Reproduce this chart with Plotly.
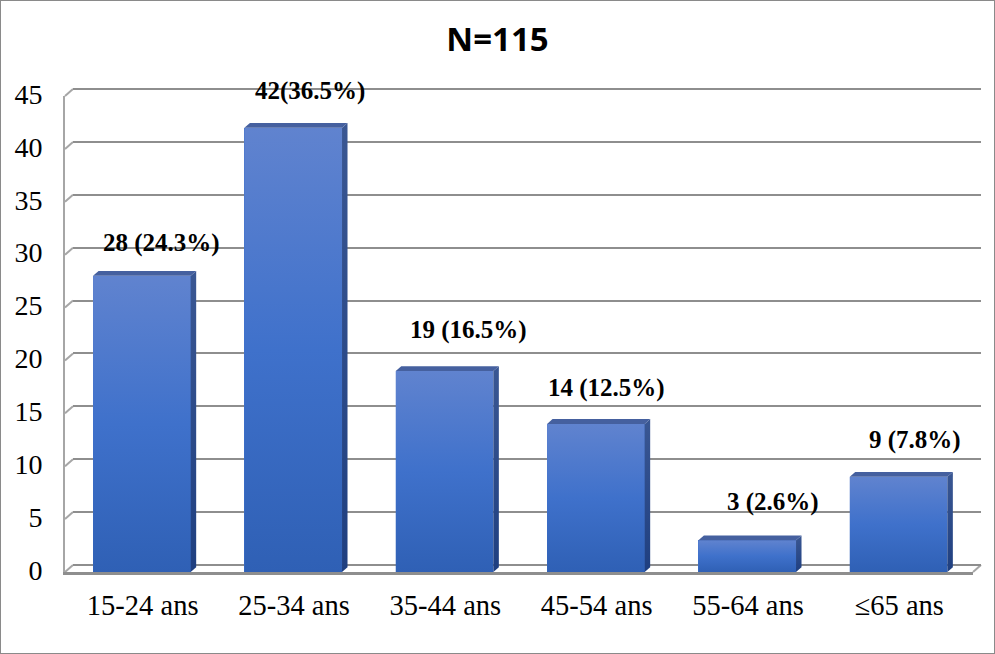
import plotly.graph_objects as go

categories = ["15-24 ans", "25-34 ans", "35-44 ans", "45-54 ans", "55-64 ans", "≤65 ans"]
counts = [28, 42, 19, 14, 3, 9]
labels = ["28 (24.3%)", "42(36.5%)", "19 (16.5%)", "14 (12.5%)", "3 (2.6%)", "9 (7.8%)"]
y_ticks = [0, 5, 10, 15, 20, 25, 30, 35, 40, 45]

WIDTH, HEIGHT = 995, 654
GRID = "#8e8e8e"
SERIF = "Liberation Serif, serif"

# front plane of the fake 3d box, in pixels
LEFT, RIGHT, BOTTOM, TOP = 65, 973, 572, 96
WALL_DX, WALL_DY = 8, 7
BAR_WIDTH = 0.645
BAR_SHIFT = 0.008
UNIT_PX = (BOTTOM - TOP) / 45
# bar depth in axis units
DEPTH_X = 5.5 / ((RIGHT - LEFT) / 6)
DEPTH_Y = 4.8 / UNIT_PX

FRONT_SCALE = [[0, "#2f60b5"], [0.5, "#3f71cb"], [1, "#6083cf"]]
SIDE_SCALE = [[0, "#1f3f80"], [1, "#3a5793"]]
CAP_COLOR = "#45609f"

fig = go.Figure()

# invisible trace so the back wall axes get drawn
fig.add_trace(go.Scatter(x=[-0.5], y=[0], xaxis="x", yaxis="y", mode="markers",
                         marker=dict(opacity=0), hoverinfo="skip", showlegend=False))

xs = list(range(len(categories)))
for x, value in zip(xs, counts):
    left = x - BAR_WIDTH / 2 + BAR_SHIFT
    right = x + BAR_WIDTH / 2 + BAR_SHIFT
    fig.add_trace(go.Bar(x=[x + BAR_SHIFT], y=[value], width=BAR_WIDTH, xaxis="x2", yaxis="y2",
                         marker=dict(color="#3f71cb", line=dict(width=0)), showlegend=False))
    fig.add_trace(go.Scatter(
        x=[left, right, right, left, left], y=[0, 0, value, value, 0],
        xaxis="x2", yaxis="y2", mode="none", fill="toself", showlegend=False, hoverinfo="skip",
        fillgradient=dict(type="vertical", colorscale=FRONT_SCALE),
    ))
    fig.add_trace(go.Scatter(
        x=[right, right + DEPTH_X, right + DEPTH_X, right, right],
        y=[0, DEPTH_Y, value + DEPTH_Y, value, 0],
        xaxis="x2", yaxis="y2", mode="none", fill="toself", showlegend=False, hoverinfo="skip",
        fillgradient=dict(type="vertical", colorscale=SIDE_SCALE),
    ))
    fig.add_trace(go.Scatter(
        x=[left, right, right + DEPTH_X, left + DEPTH_X, left],
        y=[value, value, value + DEPTH_Y, value + DEPTH_Y, value],
        xaxis="x2", yaxis="y2", mode="none", fill="toself", fillcolor=CAP_COLOR,
        showlegend=False, hoverinfo="skip",
    ))


def wall_diagonal(px_left, tick):
    # on the back wall y axis, it has slack so the shape is not clipped
    return dict(type="line", xref="paper", yref="y", ysizemode="pixel", yanchor=tick,
                x0=px_left / WIDTH, x1=(px_left + WALL_DX) / WIDTH, y0=-WALL_DY, y1=0,
                line=dict(color="#a6a6a6", width=2), layer="below")


shapes = [
    dict(type="rect", xref="paper", yref="paper", x0=0, x1=1, y0=0, y1=1,
         line=dict(color="#8a8a8a", width=2), layer="below"),
]
shapes += [wall_diagonal(LEFT, tick) for tick in y_ticks]
shapes.append(wall_diagonal(RIGHT, 0))

# per label nudges, the labels sit above and right of the bars
label_shift_x = [21, 18, 25, 12, 27, 18]
label_shift_y = [33, 37, 41, 36, 38, 37]
annotations = [
    dict(x=x, y=value, xref="x2", yref="y2", text=f"<b>{label}</b>", showarrow=False,
         xshift=dx, yshift=dy, font=dict(family=SERIF, size=25, color="black"))
    for x, value, label, dx, dy in zip(xs, counts, labels, label_shift_x, label_shift_y)
]

fig.update_layout(
    width=WIDTH,
    height=HEIGHT,
    margin=dict(l=0, r=0, t=0, b=0, pad=0),
    autosize=False,
    paper_bgcolor="white",
    plot_bgcolor="rgba(0,0,0,0)",
    showlegend=False,
    bargap=0,
    title=dict(text="<b>N=115</b>", x=0.5, xanchor="center", y=0.939, yanchor="middle",
               font=dict(family="Open Sans, sans-serif", size=33, color="black")),
    shapes=shapes,
    annotations=annotations,
    # back wall, one unit of slack each side or plotly drops the gridlines at 0 and 45
    xaxis=dict(domain=[(LEFT + WALL_DX) / WIDTH, (RIGHT + WALL_DX) / WIDTH], range=[-0.5, 5.5],
               showgrid=False, zeroline=False, showticklabels=False, ticks="", anchor="y",
               automargin=False),
    yaxis=dict(domain=[(HEIGHT - BOTTOM + WALL_DY - UNIT_PX) / HEIGHT,
                       (HEIGHT - TOP + WALL_DY + UNIT_PX) / HEIGHT],
               range=[-1, 46], tickvals=y_ticks, showgrid=True, gridcolor=GRID, gridwidth=2,
               zeroline=False, showticklabels=False, ticks="", anchor="x", automargin=False),
    # front plane, holds the bars and the tick labels
    xaxis2=dict(domain=[LEFT / WIDTH, RIGHT / WIDTH], range=[-0.5, 5.5], anchor="y2",
                tickvals=xs, ticktext=categories, showgrid=False, zeroline=False,
                showline=True, linecolor=GRID, linewidth=3, ticks="", automargin=False,
                ticklabelstandoff=6, ticklabelshift=2,
                tickfont=dict(family=SERIF, size=28.5, color="black")),
    yaxis2=dict(domain=[(HEIGHT - BOTTOM) / HEIGHT, (HEIGHT - TOP) / HEIGHT], range=[0, 45],
                anchor="x2", tickvals=y_ticks, showgrid=False, zeroline=False,
                showline=True, linecolor="#a6a6a6", linewidth=2, ticks="", automargin=False,
                ticklabelstandoff=15, ticklabelshift=-2,
                tickfont=dict(family=SERIF, size=28, color="black")),
)

# the page default margin would push the figure off the window
fig.write_html("out.html", config=dict(displayModeBar=False),
               post_script="document.body.style.margin = '0';")
